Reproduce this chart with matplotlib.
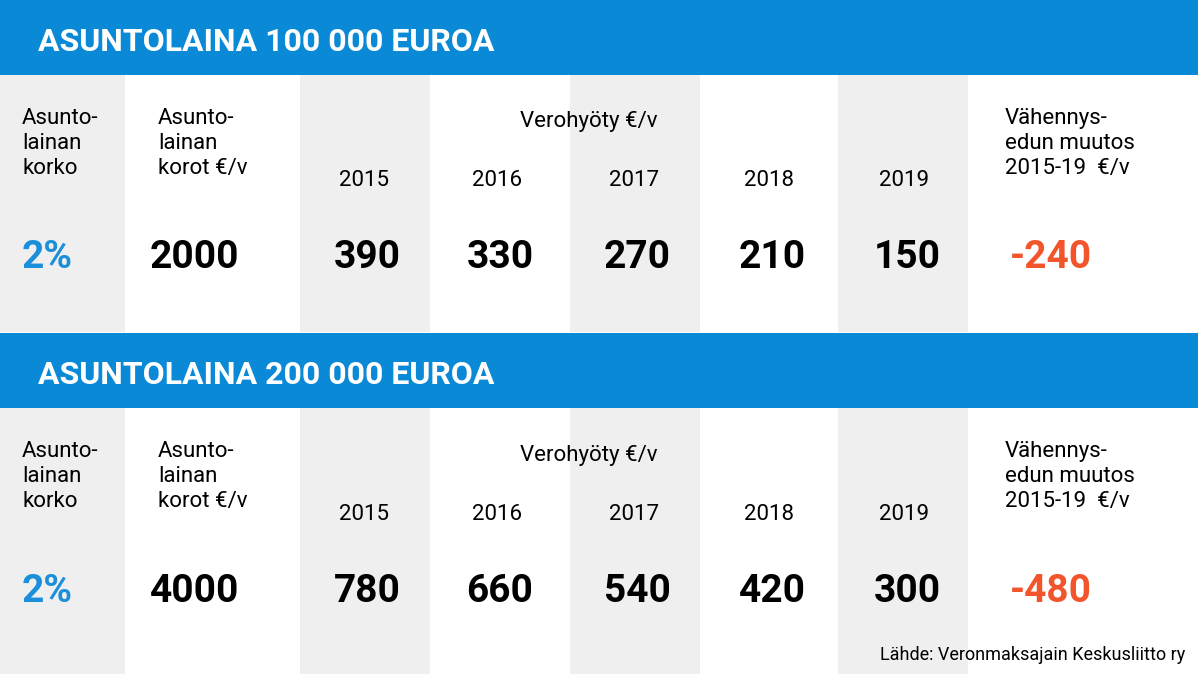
import matplotlib
matplotlib.use("Agg")
import matplotlib.pyplot as plt
from matplotlib.patches import Rectangle

titles = ["ASUNTOLAINA 100 000 EUROA", "ASUNTOLAINA 200 000 EUROA"]
rates = ["2%", "2%"]
interest = [2000, 4000]
years = ["2015", "2016", "2017", "2018", "2019"]
benefit = [[390, 330, 270, 210, 150], [780, 660, 540, 420, 300]]
change = [-240, -480]
source = "Lähde: Veronmaksajain Keskusliitto ry"

BLUE = "#0a8ad6"; LBLUE = "#1b8fd9"; RED = "#f2552c"; GRAY = "#efefef"
fig = plt.figure(figsize=(11.98, 6.74), dpi=100)
ax = fig.add_axes([0, 0, 1, 1]); ax.set_xlim(0, 1198); ax.set_ylim(674, 0); ax.axis("off")
plt.rcParams['font.family'] = ['Roboto', 'DejaVu Sans']

grays = [(0, 125), (300, 430), (570, 700), (838, 968)]
ycols = [364, 497, 634, 769, 904]
for b, top in enumerate([0, 333]):
    ax.add_patch(Rectangle((0, top), 1198, 75, color=BLUE, lw=0))
    ax.text(38, top + 42, titles[b], color="white", fontsize=23, fontweight="bold", va="center")
    y0 = top + 75
    for x0, x1 in grays:
        ax.add_patch(Rectangle((x0, y0), x1 - x0, 257 if b == 0 else 266, color=GRAY, lw=0))
    o = top
    ax.text(22, o + 108, "Asunto-\nlainan\nkorko", fontsize=16, va="top", linespacing=1.25)
    ax.text(158, o + 108, "Asunto-\nlainan\nkorot €/v", fontsize=16, va="top", linespacing=1.25)
    ax.text(520, o + 122, "Verohyöty €/v", fontsize=16, va="center")
    ax.text(1005, o + 108, "Vähennys-\nedun muutos\n2015-19  €/v", fontsize=16, va="top", linespacing=1.25)
    for x, yr in zip(ycols, years):
        ax.text(x, o + 181, yr, fontsize=16, ha="center", va="center")
    vy = o + 258
    ax.text(22, vy, rates[b], fontsize=28, fontweight="bold", color=LBLUE, va="center")
    ax.text(150, vy, str(interest[b]), fontsize=28, fontweight="bold", va="center")
    for x, v in zip(ycols, benefit[b]):
        ax.text(x + 3, vy, str(v), fontsize=28, fontweight="bold", ha="center", va="center")
    ax.text(1010, vy, "-%d" % abs(change[b]), fontsize=28, fontweight="bold", color=RED, va="center")
ax.text(1185, 655, source, fontsize=13, ha="right", va="center")
fig.savefig("out.png", dpi=100)
